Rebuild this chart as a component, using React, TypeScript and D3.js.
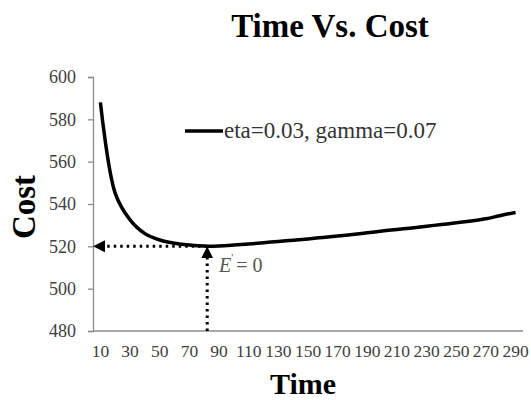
import { useEffect, useRef } from 'react'
import * as d3 from 'd3'

const times = d3.range(10, 300, 10)
const costs = [
  588, 545, 532.5, 526, 523, 521.5, 520.6, 520.1, 520.2, 520.6,
  521.1, 521.7, 522.3, 522.9, 523.5, 524.2, 524.9, 525.6, 526.4, 527.2,
  528, 528.7, 529.5, 530.3, 531.1, 532, 533, 534.6, 536,
]
const yTicks = [480, 500, 520, 540, 560, 580, 600]
const xLabels = times.filter((_, i) => i % 2 === 0)
const legendLabel = 'eta=0.03, gamma=0.07'
const optimum = { time: 80, cost: 520 }

const W = 531
const H = 400
const SERIF = '"Times New Roman", "Liberation Serif", "DejaVu Serif", serif'

export default function App() {
  const ref = useRef<SVGSVGElement>(null)

  useEffect(() => {
    if (!ref.current) return
    const svg = d3.select(ref.current)
    svg.selectAll('*').remove()

    const left = 93, right = 523, top = 77, bottom = 331

    const x = d3.scaleBand<number>().domain(times).range([left, right])
    const cx = (t: number) => (x(t) ?? 0) + x.bandwidth() / 2
    const y = d3.scaleLinear().domain([480, 600]).range([bottom, top])

    const defs = svg.append('defs')
    defs.append('marker')
      .attr('id', 'arr')
      .attr('viewBox', '0 0 10 10')
      .attr('refX', 5).attr('refY', 5)
      .attr('markerWidth', 4).attr('markerHeight', 4)
      .attr('orient', 'auto-start-reverse')
      .attr('markerUnits', 'strokeWidth')
      .append('path')
      .attr('d', 'M0,0 L10,5 L0,10 Z')
      .attr('fill', '#000')

    // title
    svg.append('text')
      .attr('x', 330).attr('y', 37)
      .attr('text-anchor', 'middle')
      .attr('font-weight', 'bold').attr('font-size', 33)
      .attr('fill', '#000')
      .text('Time Vs. Cost')

    // y axis
    const gy = svg.append('g').attr('transform', `translate(${left},0)`)
      .call(d3.axisLeft(y).tickValues(yTicks).tickSize(5).tickPadding(12))
    gy.attr('font-family', null).attr('font-size', null)
    gy.select('.domain').attr('stroke', '#8c8c8c').attr('stroke-width', 1.3)
    gy.selectAll('.tick line').attr('stroke', '#8c8c8c').attr('stroke-width', 1.3)
    gy.selectAll('.tick text').attr('font-size', 18).attr('fill', '#404040')

    // x axis
    svg.append('line')
      .attr('x1', left).attr('x2', right)
      .attr('y1', bottom).attr('y2', bottom)
      .attr('stroke', '#8c8c8c').attr('stroke-width', 1.3)
    svg.append('g').selectAll('text').data(xLabels).join('text')
      .attr('x', (d) => cx(d))
      .attr('y', bottom + 26)
      .attr('text-anchor', 'middle')
      .attr('font-size', 17.5).attr('fill', '#404040')
      .text((d) => d)

    // axis titles
    svg.append('text')
      .attr('x', 303).attr('y', 394)
      .attr('text-anchor', 'middle')
      .attr('font-weight', 'bold').attr('font-size', 30)
      .text('Time')
    svg.append('text')
      .attr('transform', `translate(35,${(top + bottom) / 2 + 3}) rotate(-90)`)
      .attr('text-anchor', 'middle')
      .attr('font-weight', 'bold').attr('font-size', 33)
      .text('Cost')

    // dotted guides
    const ox = cx(optimum.time) + 3
    const oy = y(optimum.cost)
    svg.append('line')
      .attr('x1', ox).attr('y1', oy).attr('x2', left + 6).attr('y2', oy)
      .attr('stroke', '#000').attr('stroke-width', 3)
      .attr('stroke-dasharray', '2.5,4')
      .attr('marker-end', 'url(#arr)')
    svg.append('line')
      .attr('x1', ox).attr('y1', bottom).attr('x2', ox).attr('y2', oy + 6)
      .attr('stroke', '#000').attr('stroke-width', 3)
      .attr('stroke-dasharray', '2.5,4')
      .attr('marker-end', 'url(#arr)')

    // series
    const line = d3.line<number>()
      .x((_, i) => cx(times[i]))
      .y((d) => y(d))
      .curve(d3.curveCatmullRom.alpha(0.5))
    svg.append('path')
      .datum(costs)
      .attr('d', line)
      .attr('fill', 'none')
      .attr('stroke', '#000')
      .attr('stroke-width', 3.5)
      .attr('stroke-linejoin', 'round')

    // annotation
    const ann = svg.append('text')
      .attr('x', 219).attr('y', 272)
      .attr('font-size', 20).attr('fill', '#555')
    ann.append('tspan').attr('font-style', 'italic').text('E')
    ann.append('tspan').attr('font-size', 11).attr('dy', -11).text("'")
    ann.append('tspan').attr('dy', 11).attr('dx', 3).text('= 0')

    // legend
    svg.append('line')
      .attr('x1', 185).attr('x2', 223).attr('y1', 131).attr('y2', 131)
      .attr('stroke', '#000').attr('stroke-width', 3.5)
    svg.append('text')
      .attr('x', 224).attr('y', 138)
      .attr('font-size', 23).attr('fill', '#333')
      .text(legendLabel)
  }, [])

  return (
    <svg
      ref={ref}
      width={W}
      height={H}
      style={{ position: 'absolute', left: 0, top: 0, background: '#fff', fontFamily: SERIF }}
    />
  )
}
